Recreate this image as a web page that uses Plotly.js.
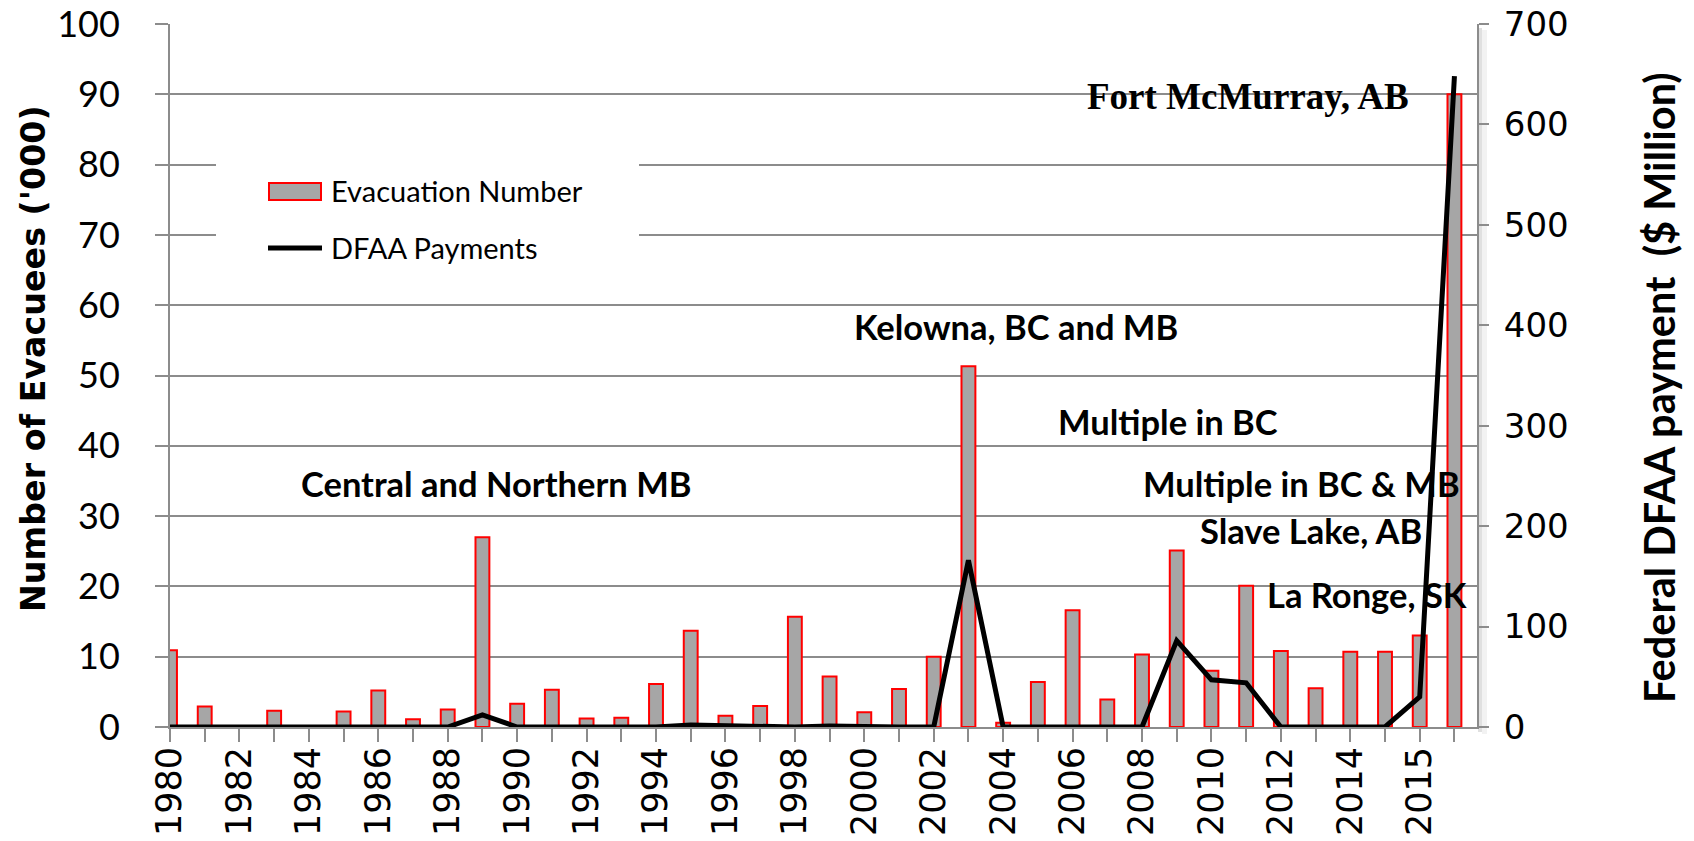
<!DOCTYPE html>
<html>
<head>
<meta charset="utf-8">
<script src="https://cdn.plot.ly/plotly-3.0.1.min.js"></script>
<style>
html,body{margin:0;padding:0;background:#ffffff;}
#chart{width:1694px;height:841px;}
</style>
</head>
<body>
<div id="chart"></div>
<script>
// ---- data ----
const categoryIndex = [0,1,2,3,4,5,6,7,8,9,10,11,12,13,14,15,16,17,18,19,20,21,22,23,24,25,26,27,28,29,30,31,32,33,34,35,36,37];
const evacuees = [10.9, 2.9, 0, 2.3, 0, 2.2, 5.2, 1.1, 2.5, 27.0, 3.3, 5.3, 1.2, 1.3, 6.1, 13.7, 1.6, 3.0, 15.7, 7.2,
                  2.1, 5.4, 10.0, 51.3, 0.6, 6.4, 16.6, 3.9, 10.3, 25.1, 8.0, 20.1, 10.8, 5.5, 10.7, 10.7, 13.0, 90.0];
const dfaaPayments = [0, 0, 0, 0, 0, 0, 0, 0, 0, 12, 0, 0, 0, 0, 0, 2, 1, 0, 0, 1,
                      0, 0, 0, 166, 0, 0, 0, 0, 0, 86, 47, 44, 0, 0, 0, 0, 30, 648];
const tickPositions = [0,2,4,6,8,10,12,14,16,18,20,22,24,26,28,30,32,34,36];
const tickLabels = ['1980','1982','1984','1986','1988','1990','1992','1994','1996','1998',
                    '2000','2002','2004','2006','2008','2010','2012','2014','2015'];
const seriesNames = ['Evacuation Number', 'DFAA Payments'];
const eventLabels = ['Fort McMurray, AB', 'Kelowna, BC and MB', 'Multiple in BC', 'Central and Northern MB',
                     'Multiple in BC & MB', 'Slave Lake, AB', 'La Ronge, SK'];
const axisTitles = ["Number of Evacuees ('000)", 'Federal DFAA payment \u00A0($ Million)'];

// ---- geometry helpers (pixel -> paper) ----
const W = 1694, H = 841;
const L = 170, R = 1477, T = 24, B = 727;
const px = x => (x - L) / (R - L);
const py = y => (B - y) / (B - T);

const grey = '#8c8c8c';
const calib = 'Lato, "Liberation Sans", sans-serif';

const traces = [
  {
    type: 'bar', name: seriesNames[0], x: categoryIndex, y: evacuees,
    width: 0.4,
    marker: {color: '#a6a6a6', line: {color: '#ff0000', width: 2}},
    showlegend: false, hoverinfo: 'x+y'
  },
  {
    type: 'scatter', mode: 'lines', name: seriesNames[1], x: categoryIndex, y: dfaaPayments,
    yaxis: 'y2', line: {color: '#000000', width: 5},
    showlegend: false
  }
];

const annFont = {family: calib, size: 34.5, color: '#000'};
const annotations = [
  {x: 31.05, y: 89.7, text: '<b>' + eventLabels[0] + '</b>', font: {family: '"Liberation Serif", serif', size: 37, color: '#000'}},
  {x: 24.37, y: 56.9, text: '<b>' + eventLabels[1] + '</b>', font: annFont},
  {x: 28.76, y: 43.5, text: '<b>' + eventLabels[2] + '</b>', font: annFont},
  {x: 9.40,  y: 34.6, text: '<b>' + eventLabels[3] + '</b>', font: annFont},
  {x: 32.6,  y: 34.6, text: '<b>' + eventLabels[4] + '</b>', font: annFont},
  {x: 32.88, y: 28.0, text: '<b>' + eventLabels[5] + '</b>', font: annFont},
  {x: 34.49, y: 18.8, text: '<b>' + eventLabels[6] + '</b>', font: annFont}
].map(a => Object.assign({xref: 'x', yref: 'y', showarrow: false, xanchor: 'center', yanchor: 'middle'}, a));

// axis titles (placed as rotated annotations for exact positioning)
annotations.push(
  {xref: 'paper', yref: 'paper', x: px(33), y: py(359), textangle: -90, xanchor: 'center', yanchor: 'middle', showarrow: false,
   text: '<b>' + axisTitles[0] + '</b>', font: {family: '"DejaVu Sans", sans-serif', size: 33.3, color: '#000'}},
  {xref: 'paper', yref: 'paper', x: px(1659), y: py(388), textangle: -90, xanchor: 'center', yanchor: 'middle', showarrow: false,
   text: '<b>' + axisTitles[1] + '</b>', font: {family: calib, size: 41.5, color: '#000'}}
);

// custom legend texts
annotations.push(
  {xref: 'paper', yref: 'paper', x: px(329), y: py(190), xanchor: 'left', yanchor: 'middle', showarrow: false,
   text: seriesNames[0], font: {family: calib, size: 29, color: '#000'}},
  {xref: 'paper', yref: 'paper', x: px(329), y: py(247), xanchor: 'left', yanchor: 'middle', showarrow: false,
   text: seriesNames[1], font: {family: calib, size: 29, color: '#000'}}
);

const shapes = [
  // legend background
  {type: 'rect', xref: 'paper', yref: 'paper', x0: px(216), x1: px(639), y0: py(270), y1: py(100),
   fillcolor: '#ffffff', line: {width: 0}, layer: 'above'},
  // legend bar swatch
  {type: 'rect', xref: 'paper', yref: 'paper', x0: px(269), x1: px(321), y0: py(200), y1: py(183),
   fillcolor: '#a6a6a6', line: {color: '#ff0000', width: 2}, layer: 'above'},
  // legend line swatch
  {type: 'line', xref: 'paper', yref: 'paper', x0: px(268), x1: px(322), y0: py(248), y1: py(248),
   line: {color: '#000', width: 5}, layer: 'above'},
  // soft shadow right of the plot
  {type: 'rect', xref: 'paper', yref: 'paper', x0: px(1478), x1: px(1482), y0: py(732), y1: py(28),
   fillcolor: 'rgba(0,0,0,0.12)', line: {width: 0}, layer: 'below'},
  {type: 'rect', xref: 'paper', yref: 'paper', x0: px(1482), x1: px(1487), y0: py(734), y1: py(30),
   fillcolor: 'rgba(0,0,0,0.05)', line: {width: 0}, layer: 'below'}
];

const layout = {
  width: W, height: H,
  margin: {l: L, r: W - R, t: T, b: H - B, pad: 0},
  paper_bgcolor: '#ffffff', plot_bgcolor: '#ffffff',
  showlegend: false,
  xaxis: {
    range: [0, 37.65], tickmode: 'array', tickvals: tickPositions, ticktext: tickLabels,
    tickangle: -90, tickfont: {family: '"DejaVu Sans", sans-serif', size: 35, color: '#000'},
    ticks: 'outside', ticklen: 13, tickcolor: grey, tickwidth: 2,
    minor: {tickmode: 'linear', tick0: 0, dtick: 1, ticks: 'outside', ticklen: 13, tickcolor: grey, tickwidth: 2, showgrid: false},
    showline: true, linecolor: grey, linewidth: 2, showgrid: false, zeroline: false,
    ticklabelstandoff: -9, fixedrange: true
  },
  yaxis: {
    range: [0, 100], dtick: 10, tick0: 0,
    tickfont: {family: calib, size: 36, color: '#000'},
    ticks: 'outside', ticklen: 13, tickcolor: grey, tickwidth: 2,
    showline: true, linecolor: grey, linewidth: 2,
    showgrid: true, gridcolor: grey, gridwidth: 2, zeroline: false,
    ticklabelstandoff: 28,
    automargin: false
  },
  yaxis2: {
    range: [0, 700], dtick: 100, tick0: 0, overlaying: 'y', side: 'right',
    tickfont: {family: '"DejaVu Sans", sans-serif', size: 34, color: '#000'},
    ticks: 'outside', ticklen: 10, tickcolor: grey, tickwidth: 2,
    showline: true, linecolor: grey, linewidth: 2,
    showgrid: false, zeroline: false,
    ticklabelstandoff: 8,
    automargin: false
  },
  annotations: annotations,
  shapes: shapes
};

Plotly.newPlot('chart', traces, layout, {displayModeBar: false, staticPlot: true});
</script>
</body>
</html>
